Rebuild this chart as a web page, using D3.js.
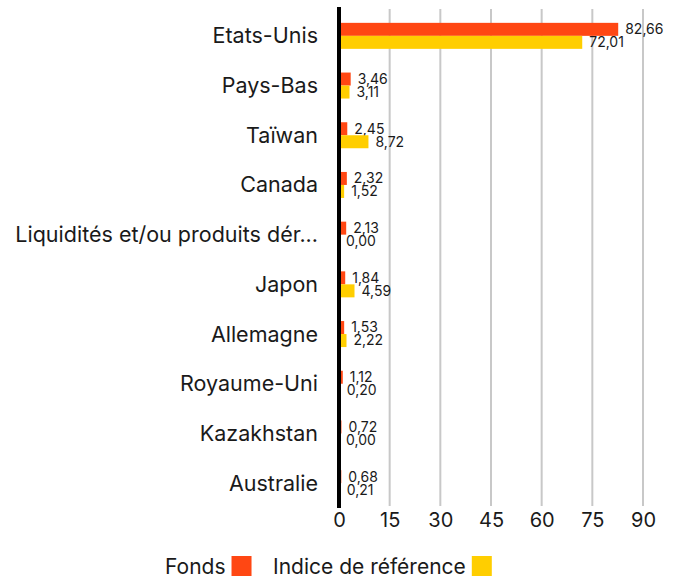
<html>
<meta charset="utf-8" />
<head>
<title>Répartition géographique</title>
<script src="https://cdn.jsdelivr.net/npm/d3@7/dist/d3.min.js"></script>
<style>
	body { margin: 0; background: #fff; }
	text { font-family: Inter, "Noto Sans", sans-serif; fill: #1a1a1a; }
</style>
<script>
// categories and values
const countries = ['Etats-Unis', 'Pays-Bas', 'Taïwan', 'Canada', 'Liquidités et/ou produits dérivés', 'Japon', 'Allemagne', 'Royaume-Uni', 'Kazakhstan', 'Australie'];
const fonds = [82.66, 3.46, 2.45, 2.32, 2.13, 1.84, 1.53, 1.12, 0.72, 0.68];
const indice = [72.01, 3.11, 8.72, 1.52, 0.00, 4.59, 2.22, 0.20, 0.00, 0.21];
const xTicks = [0, 15, 30, 45, 60, 75, 90];
const seriesNames = ['Fonds', 'Indice de référence'];
const seriesColors = ['#ff4713', '#ffce00'];

window.onload = function() {
	let svg = d3.select('svg');

	let xScale = d3.scaleLinear().domain([0, 90]).range([339, 643]);
	let yScale = d3.scaleBand().domain(countries).range([11, 508]);
	let inner = d3.scaleBand().domain([0, 1]).range([-13, 13]);

	let fmt = (v) => v.toFixed(2).replace('.', ',');
	let shortLabel = (s) => s.length > 30 ? s.slice(0, 29) + '...' : s;

	// grid lines
	svg.append('g').selectAll('line')
		.data(xTicks.slice(1))
		.enter().append('line')
		.attr('x1', (d) => xScale(d)).attr('x2', (d) => xScale(d))
		.attr('y1', 9).attr('y2', 506)
		.attr('stroke', '#c8c8c8').attr('stroke-width', 2);

	// tick labels
	let xAxis = d3.axisBottom(xScale).tickValues(xTicks).tickSize(0).tickPadding(0);
	let xAxisG = svg.append('g').attr('transform', 'translate(0,508)').call(xAxis);
	xAxisG.select('.domain').remove();
	xAxisG.selectAll('text')
		.attr('dy', '0.71em').attr('y', 5)
		.style('font-family', 'Inter, "Noto Sans", sans-serif')
		.style('font-size', '20px').style('fill', '#1a1a1a');

	// bars
	let series = [fonds, indice];
	series.forEach((vals, s) => {
		let g = svg.append('g');
		g.selectAll('rect')
			.data(vals)
			.enter().append('rect')
			.attr('x', xScale(0))
			.attr('y', (d, i) => yScale(countries[i]) + yScale.bandwidth() / 2 + inner(s))
			.attr('width', (d) => xScale(d) - xScale(0))
			.attr('height', inner.bandwidth())
			.attr('fill', seriesColors[s]);

		g.selectAll('text')
			.data(vals)
			.enter().append('text')
			.attr('x', (d) => xScale(d) + 7)
			.attr('y', (d, i) => yScale(countries[i]) + yScale.bandwidth() / 2 + inner(s) + inner.bandwidth() / 2)
			.attr('dy', '0.35em')
			.style('font-size', '14px')
			.text((d) => fmt(d));
	});

	// category labels
	svg.append('g').selectAll('text')
		.data(countries)
		.enter().append('text')
		.attr('x', 318)
		.attr('y', (d) => yScale(d) + yScale.bandwidth() / 2)
		.attr('dy', '0.35em')
		.attr('text-anchor', 'end')
		.style('font-size', '21.5px')
		.text((d) => shortLabel(d));

	// vertical axis line
	svg.append('line')
		.attr('x1', xScale(0)).attr('x2', xScale(0))
		.attr('y1', 7).attr('y2', 508)
		.attr('stroke', '#000').attr('stroke-width', 4);

	// legend
	let legend = svg.append('g').attr('transform', 'translate(0,567)');
	let lx = [165, 273];
	seriesNames.forEach((name, s) => {
		let t = legend.append('text')
			.attr('x', lx[s]).attr('y', 0).attr('dy', '0.35em')
			.style('font-size', '21px')
			.text(name);
		let w = t.node().getComputedTextLength();
		legend.append('rect')
			.attr('x', lx[s] + w + 6).attr('y', -11)
			.attr('width', 20).attr('height', 20)
			.attr('fill', seriesColors[s]);
	});
};
</script>
</head>
<body>
<svg style="width:681px; height:583px; display:block" />
</body>
</html>
